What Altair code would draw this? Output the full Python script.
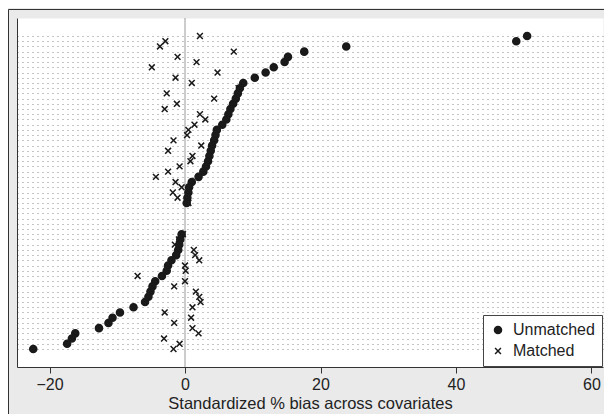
import altair as alt
import pandas as pd

# Covariate rows, listed from the top row (largest unmatched bias) to the bottom row.
# None = no marker drawn on that row.
unmatched = [50.5, 48.9, 23.8, 17.6, 15.2, 14.7, 13.1, 11.9, 10.3, 8.6,
             8.1, 7.8, 7.5, 7.1, 6.7, 6.4, 6.1, 5.5, 4.7, 4.5,
             4.3, 4.0, 3.8, 3.6, 3.4, 3.1, 2.7, 2.0, 1.0, 0.6,
             0.5, 0.35, 0.25, None, None, None, None, None, -0.5, -0.7,
             -0.85, -1.0, -1.3, -2.0, -2.5, -2.7, -3.4, -4.4, -4.8, -5.1,
             -5.4, -5.9, -7.6, -9.6, -10.7, -11.3, -12.7, -16.2, -16.7, -17.4,
             -22.4]
matched = [2.2, -2.9, -3.7, 7.2, -1.1, 1.7, -4.9, 4.8, -1.4, 1.0,
           7.9, -2.7, 4.3, -1.2, -3.0, 2.2, 3.0, 1.4, 0.5, 0.3,
           -1.7, 2.4, -2.5, 1.1, 0.8, -0.8, -2.5, -4.3, -1.4, -0.5,
           -1.8, -1.1, 0.5, None, None, None, None, None, -0.3, -0.9,
           -1.5, 1.3, 1.5, 2.1, 0.0, 0.1, -7.0, 0.0, -1.6, 1.6,
           2.1, 2.3, 1.1, -3.0, 0.9, -1.6, 1.1, 2.0, -3.1, -0.8,
           -1.7]
n_rows = len(unmatched)
row_ids = list(range(n_rows, 0, -1))  # top row = n_rows, bottom row = 1

x_ticks = [-20, 0, 20, 40, 60]
samples = ["Unmatched", "Matched"]

records = []
for r, u, m in zip(row_ids, unmatched, matched):
    if u is not None:
        records.append({"row": r, "bias": u, "sample": "Unmatched"})
    if m is not None:
        records.append({"row": r, "bias": m, "sample": "Matched"})
df = pd.DataFrame(records)

FONT = "Liberation Sans"
XPATH = "M-1,-1L1,1M1,-1L-1,1"
INK = "#1a1a1a"

x_enc = alt.X(
    "bias:Q",
    scale=alt.Scale(domain=[-24.8, 61.7], nice=False, zero=False),
    axis=alt.Axis(values=x_ticks, title="Standardized % bias across covariates",
                  grid=False, format="d"),
)
y_enc = alt.Y(
    "row:Q",
    scale=alt.Scale(domain=[-2.45, 64.45], nice=False, zero=False),
    axis=alt.Axis(values=list(range(1, n_rows + 1)), labels=False, ticks=False,
                  title=None, grid=True, gridDash=[1, 4], gridColor="#8a8a8a",
                  gridWidth=1, domainColor="#333333", domainWidth=1),
)

legend = alt.Legend(title=None, orient="bottom-right", offset=1)

points = alt.Chart(df).mark_point(
    filled=False, strokeWidth=1.5, opacity=1
).encode(
    x=x_enc,
    y=y_enc,
    shape=alt.Shape("sample:N", scale=alt.Scale(domain=samples, range=["circle", XPATH]), legend=legend),
    fill=alt.Fill("sample:N", scale=alt.Scale(domain=samples, range=[INK, "transparent"]), legend=legend),
    stroke=alt.Stroke("sample:N", scale=alt.Scale(domain=samples, range=[INK, INK]), legend=legend),
    size=alt.Size("sample:N", scale=alt.Scale(domain=samples, range=[50, 34]), legend=legend),
)

zero_rule = alt.Chart(pd.DataFrame({"bias": [0]})).mark_rule(
    color="#9a9a9a", strokeWidth=1
).encode(x="bias:Q")

frame = alt.Chart(pd.DataFrame({"a": [0]})).mark_rect(
    fill="transparent", stroke="#333333", strokeWidth=1
).encode(
    x=alt.value(-8.5), x2=alt.value(700), y=alt.value(-8.5), y2=alt.value(600)
)

chart = alt.layer(frame, zero_rule, points).properties(
    width=586,
    height=349,
    autosize=alt.AutoSizeParams(type="none"),
    padding={"left": 9, "top": 10, "right": 1, "bottom": 47},
    background="#eaeaea",
).configure_view(
    fill="white", stroke="transparent"
).configure_axis(
    labelFont=FONT, titleFont=FONT,
).configure_axisX(
    domainColor="#333333", domainWidth=1, tickColor="#333333", tickSize=6,
    labelFontSize=16, labelColor="#222222", labelPadding=3,
    titleFontSize=16.5, titleColor="#222222", titleFontWeight="normal", titlePadding=3,
).configure_legend(
    labelFont=FONT, labelFontSize=16, labelColor="#222222",
    fillColor="white", strokeColor="#444444", padding=7, rowPadding=5,
    labelOffset=7, symbolStrokeWidth=1.5, cornerRadius=0,
)

chart.save("out.html", embed_options={"renderer": "svg", "actions": False})
